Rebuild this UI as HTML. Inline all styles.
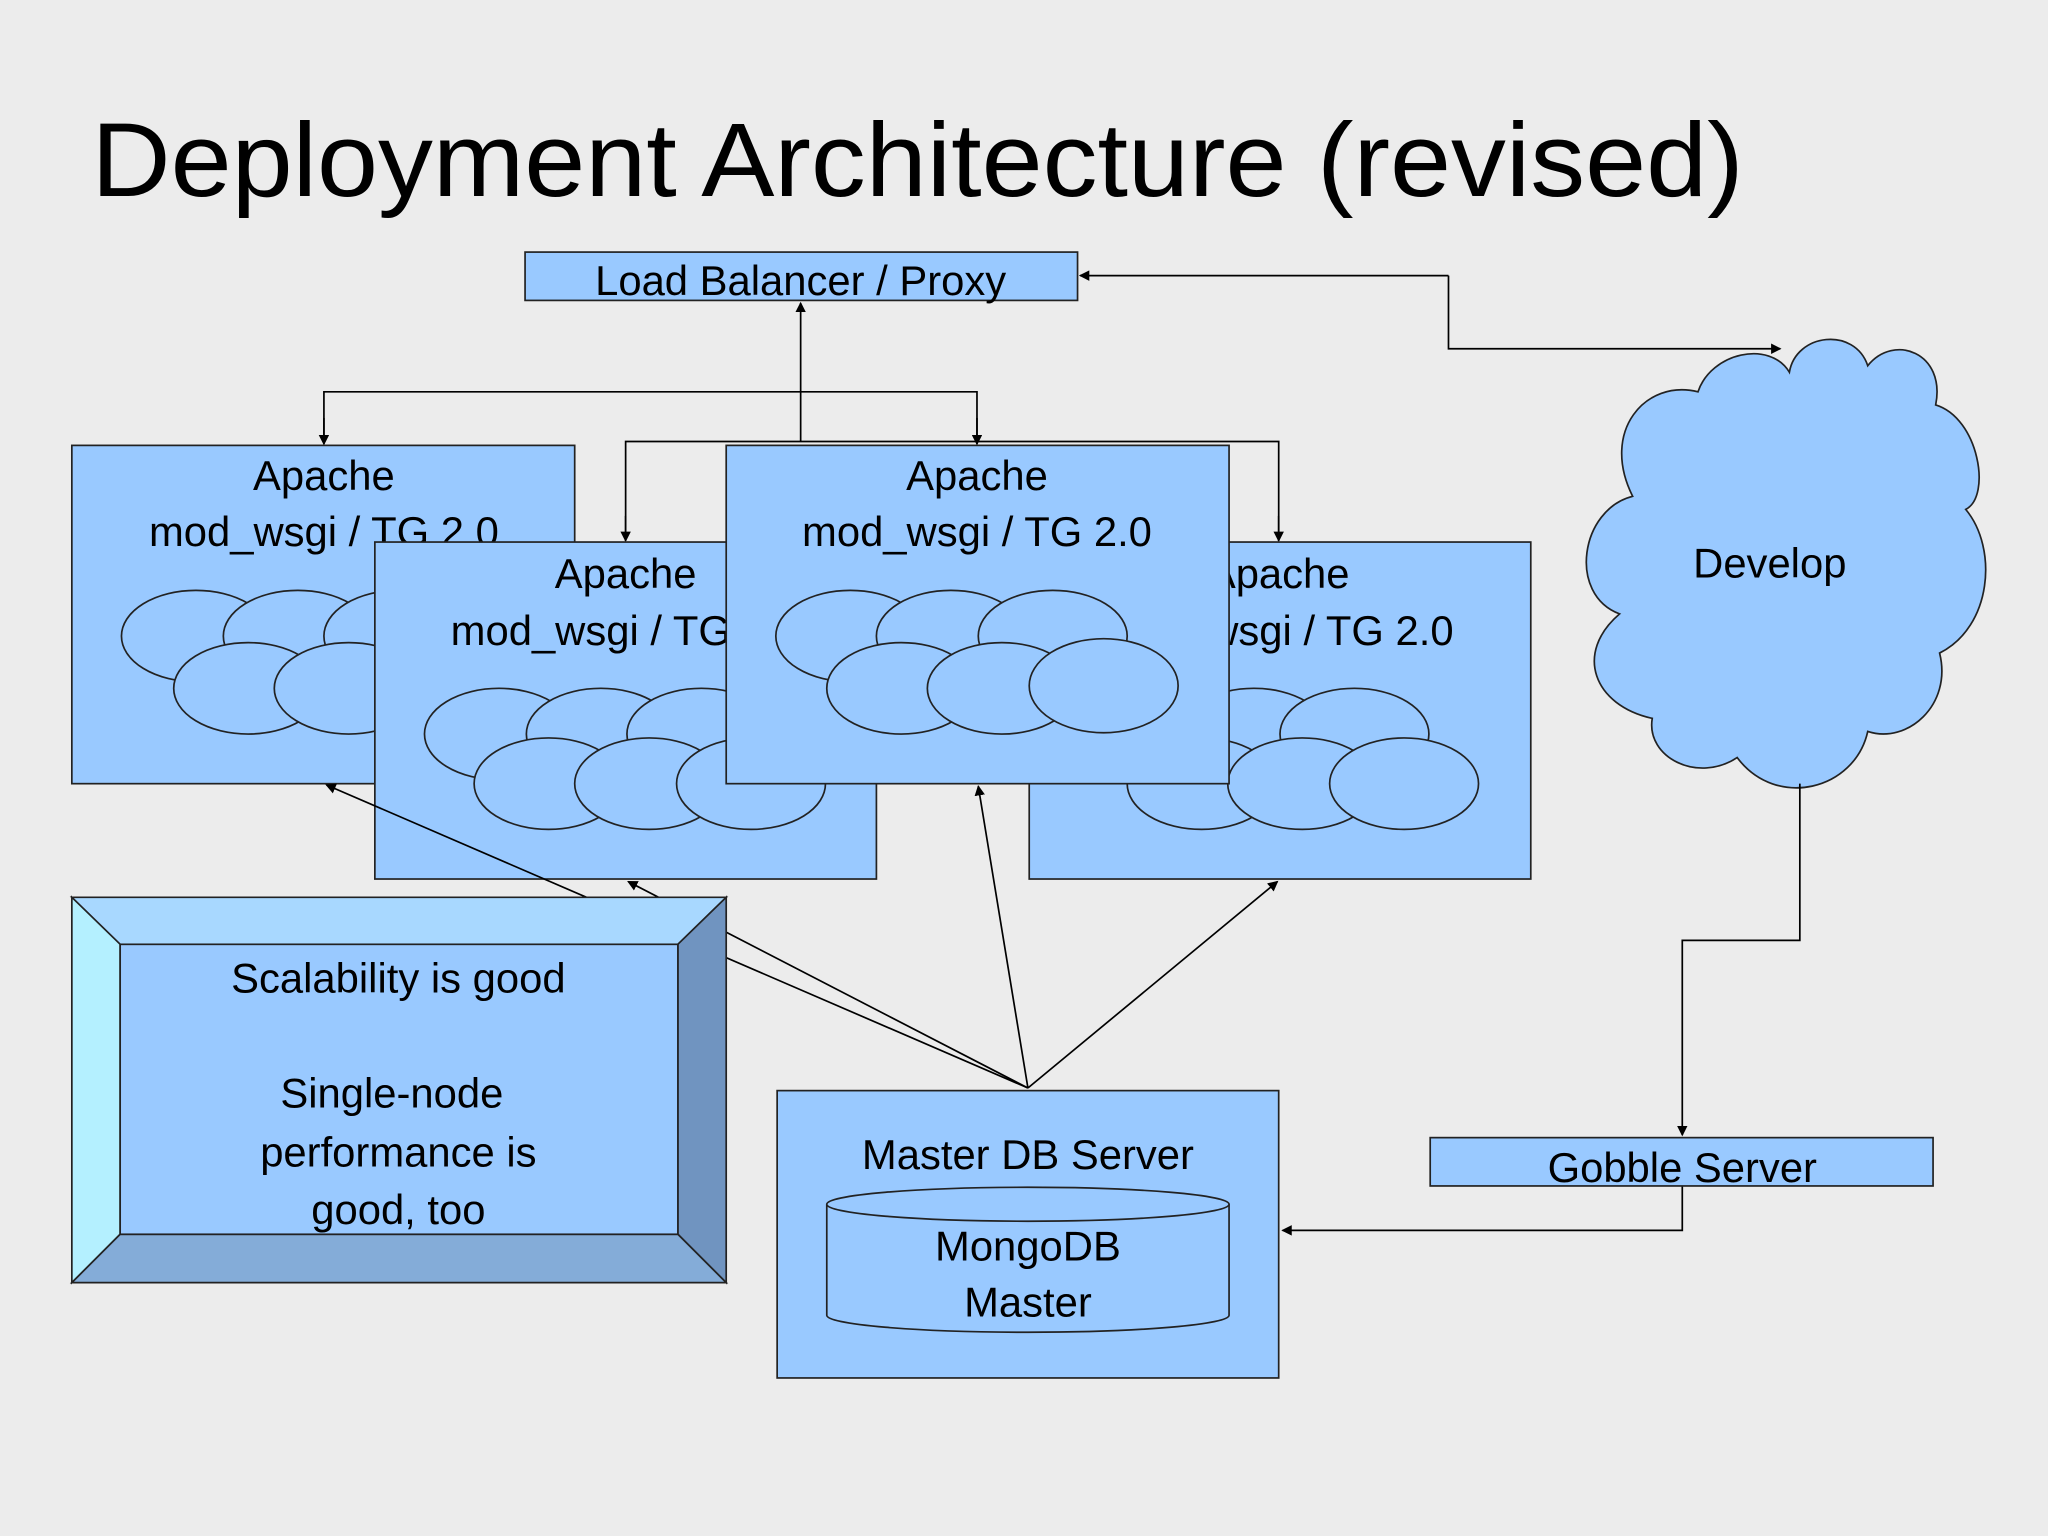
<!DOCTYPE html>
<html><head><meta charset="utf-8"><style>
html,body{margin:0;padding:0;background:#ececec;}
svg{display:block;}
text{font-family:"Liberation Sans",sans-serif;fill:#000;}
</style></head><body>
<svg width="2048" height="1536" viewBox="0 0 1568 1176" xmlns="http://www.w3.org/2000/svg">
<defs>
<marker id="ar" markerWidth="8" markerHeight="8" refX="7" refY="4" orient="auto" markerUnits="userSpaceOnUse"><path d="M0,0 L8,4 L0,8 z" fill="#000"/></marker>
</defs>
<rect width="1568" height="1176" fill="#ececec"/>
<text x="70" y="150" font-size="80" textLength="1265" lengthAdjust="spacingAndGlyphs">Deployment Architecture (revised)</text>

<g stroke="#000" stroke-width="1.3" fill="none">
<line x1="613" y1="338" x2="613" y2="232" marker-end="url(#ar)"/>
<polyline points="248,339 248,300 748,300 748,339" />
<line x1="248" y1="320" x2="248" y2="340" marker-end="url(#ar)"/>
<line x1="748" y1="320" x2="748" y2="340" marker-end="url(#ar)"/>
<polyline points="479,414 479,338 979,338 979,414"/>
<line x1="479" y1="395" x2="479" y2="414" marker-end="url(#ar)"/>
<line x1="979" y1="395" x2="979" y2="414" marker-end="url(#ar)"/>
<polyline points="1109,211 1109,267 1363,267" marker-end="url(#ar)"/>
<line x1="1109" y1="211" x2="827" y2="211" marker-end="url(#ar)"/>
</g>

<rect x="402" y="193" width="423" height="37" fill="#99c9ff" stroke="#222" stroke-width="1.3"/>
<text x="613" y="226" font-size="32" text-anchor="middle">Load Balancer / Proxy</text>

<g stroke="#222" stroke-width="1.3" font-size="32" text-anchor="middle">
<g>
<rect x="55" y="341" width="385" height="259" fill="#99c9ff"/>
<text x="248" y="375" stroke="none">Apache</text><text x="248" y="418" stroke="none">mod_wsgi / TG 2.0</text>
<g fill="#99c9ff">
<ellipse cx="150" cy="487" rx="57" ry="35"/><ellipse cx="228" cy="487" rx="57" ry="35"/><ellipse cx="305" cy="487" rx="57" ry="35"/>
<ellipse cx="190" cy="527" rx="57" ry="35"/><ellipse cx="267" cy="527" rx="57" ry="35"/>
</g>
</g>
<g>
<rect x="287" y="415" width="384" height="258" fill="#99c9ff"/>
<text x="479" y="450" stroke="none">Apache</text><text x="479" y="494" stroke="none">mod_wsgi / TG 2.0</text>
<g fill="#99c9ff">
<ellipse cx="382" cy="562" rx="57" ry="35"/><ellipse cx="460" cy="562" rx="57" ry="35"/><ellipse cx="537" cy="562" rx="57" ry="35"/>
<ellipse cx="420" cy="600" rx="57" ry="35"/><ellipse cx="497" cy="600" rx="57" ry="35"/><ellipse cx="575" cy="600" rx="57" ry="35"/>
</g>
</g>
<g>
<rect x="788" y="415" width="384" height="258" fill="#99c9ff"/>
<text x="979" y="450" stroke="none">Apache</text><text x="979" y="494" stroke="none">mod_wsgi / TG 2.0</text>
<g fill="#99c9ff">
<ellipse cx="883" cy="562" rx="57" ry="35"/><ellipse cx="960" cy="562" rx="57" ry="35"/><ellipse cx="1037" cy="562" rx="57" ry="35"/>
<ellipse cx="920" cy="600" rx="57" ry="35"/><ellipse cx="997" cy="600" rx="57" ry="35"/><ellipse cx="1075" cy="600" rx="57" ry="35"/>
</g>
</g>
<g>
<rect x="556" y="341" width="385" height="259" fill="#99c9ff"/>
<text x="748" y="375" stroke="none">Apache</text><text x="748" y="418" stroke="none">mod_wsgi / TG 2.0</text>
<g fill="#99c9ff">
<ellipse cx="651" cy="487" rx="57" ry="35"/><ellipse cx="728" cy="487" rx="57" ry="35"/><ellipse cx="806" cy="487" rx="57" ry="35"/>
<ellipse cx="690" cy="527" rx="57" ry="35"/><ellipse cx="767" cy="527" rx="57" ry="35"/><ellipse cx="845" cy="525" rx="57" ry="36"/>
</g>
</g>
</g>

<g stroke="#000" stroke-width="1.3" fill="none">
<line x1="787" y1="833" x2="250" y2="601" marker-end="url(#ar)"/>
<line x1="787" y1="833" x2="481" y2="675" marker-end="url(#ar)"/>
<line x1="787" y1="833" x2="749" y2="602" marker-end="url(#ar)"/>
<line x1="787" y1="833" x2="978" y2="675" marker-end="url(#ar)"/>
</g>

<g stroke="#222" stroke-width="1.3">
<polygon points="55,687 556,687 519,723 92,723" fill="#a8d8ff"/>
<polygon points="55,687 92,723 92,945 55,982" fill="#b4f0ff"/>
<polygon points="556,687 556,982 519,945 519,723" fill="#7094c0"/>
<polygon points="55,982 92,945 519,945 556,982" fill="#84acd8"/>
<rect x="92" y="723" width="427" height="222" fill="#99c9ff"/>
</g>
<g font-size="32" text-anchor="middle">
<text x="305" y="760">Scalability is good</text>
<text x="300" y="848">Single-node</text>
<text x="305" y="893">performance is</text>
<text x="305" y="937">good, too</text>
</g>

<path d="M1250,380 C1225,330 1260,290 1300,300 C1310,270 1355,260 1370,285 C1375,255 1420,250 1430,280 C1450,255 1490,270 1482,310 C1515,320 1525,380 1505,390 C1530,420 1525,480 1485,500 C1495,540 1460,570 1430,560 C1420,605 1360,620 1330,580 C1300,600 1260,580 1265,550 C1220,540 1205,500 1240,470 C1200,455 1210,390 1250,380 Z" fill="#99c9ff" stroke="#222" stroke-width="1.3"/>
<text x="1355" y="442" font-size="32" text-anchor="middle">Develop</text>

<g stroke="#000" stroke-width="1.3" fill="none">
<polyline points="1378,600 1378,720 1288,720 1288,869" marker-end="url(#ar)"/>
<polyline points="1288,908 1288,942 982,942" marker-end="url(#ar)"/>
</g>
<rect x="1095" y="871" width="385" height="37" fill="#99c9ff" stroke="#222" stroke-width="1.3"/>
<text x="1288" y="905" font-size="32" text-anchor="middle">Gobble Server</text>

<rect x="595" y="835" width="384" height="220" fill="#99c9ff" stroke="#222" stroke-width="1.3"/>
<text x="787" y="895" font-size="32" text-anchor="middle">Master DB Server</text>
<path d="M633,922 L633,1007 A154,13 0 0 0 941,1007 L941,922" fill="#99c9ff" stroke="#222" stroke-width="1.3"/>
<ellipse cx="787" cy="922" rx="154" ry="13" fill="#99c9ff" stroke="#222" stroke-width="1.3"/>
<text x="787" y="965" font-size="32" text-anchor="middle">MongoDB</text>
<text x="787" y="1008" font-size="32" text-anchor="middle">Master</text>
</svg>
</body></html>
